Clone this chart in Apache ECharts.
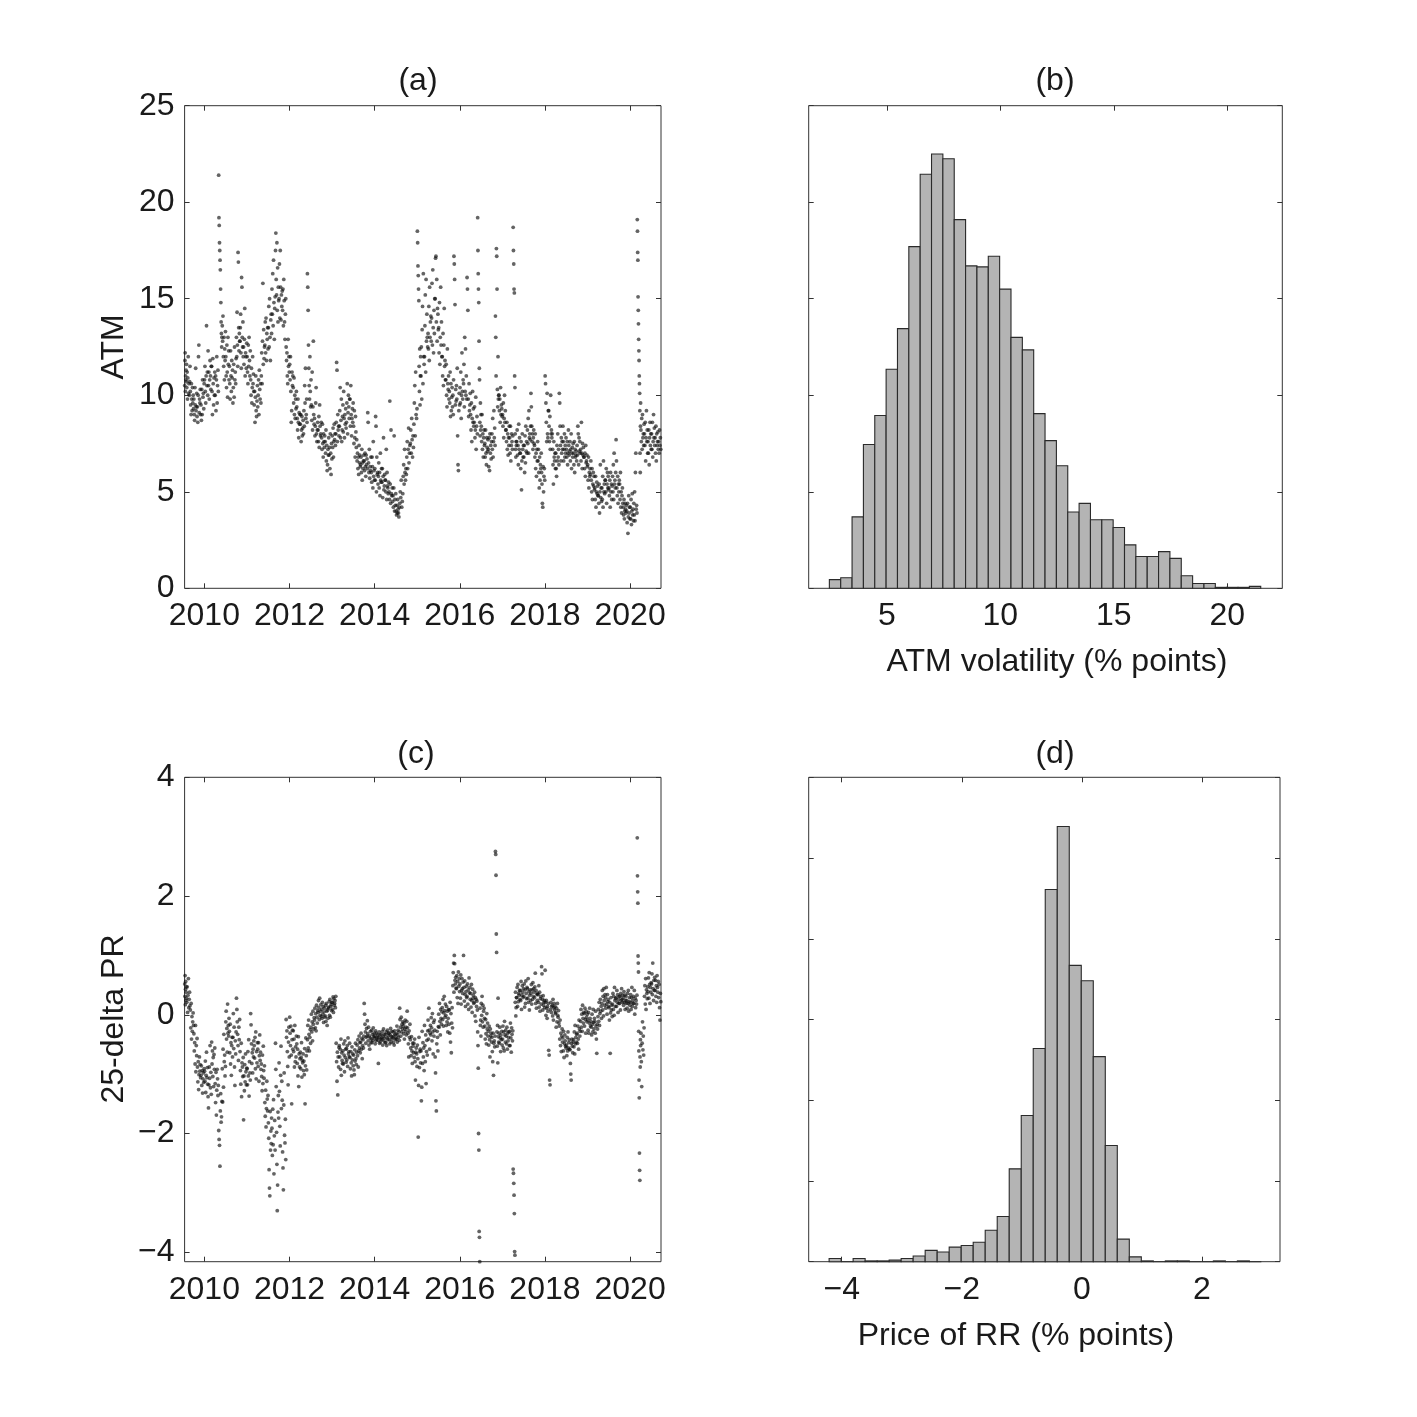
<!DOCTYPE html>
<html><head><meta charset="utf-8">
<script src="https://cdn.jsdelivr.net/npm/echarts@6/dist/echarts.min.js"></script>
<style>html,body{margin:0;padding:0;background:#fff}#c{width:1417px;height:1417px}</style>
</head><body><div id="c"></div>
<script>
// ---------- tick labels ----------
const yearTicks = [2010, 2012, 2014, 2016, 2018, 2020];
const atmTicks = [0, 5, 10, 15, 20, 25];
const rrTicks = [-4, -2, 0, 2, 4];
const atmHistTicks = [5, 10, 15, 20];
const rrHistTicks = [-4, -2, 0, 2];

// ---------- (a) ATM volatility, monthly groups of daily observations ----------
const atm2009 = [ // Jul-Dec
 [10.5,11.8,12.2,10.2,11.0,10.8,11.3,10.7,11.6],
 [10.4,11.2,9.8,10.9,12.0,10.1,10.6,10.0,10.7,11.5],
 [10.2,9.5,9.0,10.6,9.8,9.2,10.4,9.6,10.0,9.3],
 [9.8,9.0,8.7,10.4,9.5,11.4,9.2,9.4,10.1,8.9],
 [9.4,8.6,10.0,12.0,12.6,9.1,9.8,9.6,10.3,9.0],
 [9.5,8.7,10.3,9.0,10.8,9.9,10.1,9.3,10.6]
];
const atm2010 = [
 [10.8,11.5,10.2,9.6,11.0,13.6,10.5,11.2,10.0],
 [12.3,10.5,11.2,9.8,10.8,11.8,11.0,10.3,11.5],
 [11.5,10.2,9.0,11.9,10.6,9.5,10.9,10.0,11.2],
 [10.0,11.0,9.2,10.8,12.0,9.6,10.5,11.3,10.2],
 [21.4,19.2,18.8,17.9,17.5,17.0,16.5,15.5,14.8,13.8,13.2,12.5,13.0],
 [13.6,12.8,14.1,12.0,11.5,13.0,10.8,12.4,11.8,13.3],
 [12.0,11.0,10.4,12.6,11.2,9.9,13.0,11.6,12.3,10.8],
 [11.5,10.6,9.8,12.3,11.0,10.2,11.8,10.9,11.3],
 [9.6,10.4,11.6,9.9,12.5,10.8,11.2,10.6,11.9],
 [13.0,12.0,14.3,12.6,11.5,17.4,16.9,13.5,12.3,13.2,12.8],
 [12.8,13.5,14.2,12.2,11.4,16.1,15.6,13.0,12.5,13.8,12.0],
 [12.5,11.6,12.9,14.5,11.0,12.2,12.0,11.4,12.7]
];
const atm2011 = [
 [12.0,11.2,10.6,12.6,11.5,13.0,11.8,11.0,12.3],
 [10.8,10.0,11.4,9.6,10.4,12.0,10.6,11.1,10.2],
 [9.5,10.2,8.6,9.9,11.0,9.2,8.9,9.7,10.5],
 [9.4,10.0,10.8,9.0,11.3,10.3,9.8,10.6,9.6],
 [11.0,12.2,10.6,12.8,15.8,11.6,13.4,11.9,12.5],
 [12.6,13.8,12.2,14.0,11.8,13.2,12.9,13.5,12.4],
 [13.5,14.6,12.5,15.0,13.0,11.8,13.9,14.2,13.2],
 [15.5,14.2,16.3,13.6,17.0,14.8,12.9,14.5,15.1],
 [17.5,18.4,16.0,15.2,17.9,14.4,16.6,13.8,15.6,14.9],
 [15.0,16.8,14.0,17.5,15.6,13.9,15.2,14.6,15.4],
 [14.4,15.5,13.6,16.0,14.9,13.8,12.9,14.2,15.0],
 [12.5,11.8,12.2,11.0,10.6,12.9,11.5,12.0,11.2]
];
const atm2012 = [
 [11.6,10.8,12.0,10.2,8.6,9.2,11.2,10.5,11.0],
 [10.4,9.6,10.9,9.0,10.0,8.8,9.8,9.3,10.2],
 [9.4,8.8,8.2,9.8,8.6,7.8,9.1,8.5,9.0],
 [8.5,9.0,7.6,8.2,8.9,7.9,8.3,8.7,8.0],
 [9.2,8.4,10.5,9.6,11.4,8.8,9.0,9.8,8.6],
 [16.3,15.6,14.4,12.6,11.4,10.5,9.8,12.0,10.2,9.4],
 [10.8,9.5,8.7,11.2,8.2,9.4,12.8,9.0,8.5],
 [8.8,7.9,8.4,9.6,10.4,8.0,7.6,8.2,8.6],
 [8.2,7.6,8.9,7.3,9.5,8.4,7.9,8.0,8.6],
 [7.8,7.2,8.5,7.5,6.8,8.0,7.6,7.3,7.9],
 [7.6,7.0,8.2,6.6,7.4,6.1,6.4,7.2,6.9],
 [7.8,6.9,7.3,6.2,8.0,7.0,5.9,7.5,6.7]
];
const atm2013 = [
 [7.9,7.3,8.3,6.8,7.6,8.5,7.7,8.0,7.4],
 [8.0,8.6,11.7,11.3,7.6,9.0,8.2,8.4,7.9],
 [8.4,9.2,10.4,7.8,8.7,9.8,7.6,8.2,8.9],
 [9.5,8.1,10.2,8.8,7.8,9.0,8.5,9.3,8.3],
 [8.6,9.6,10.6,8.0,9.1,10.0,9.4,8.8,9.8],
 [9.8,8.4,10.5,9.0,7.9,8.8,9.3,8.6,9.6],
 [8.4,7.5,9.2,7.8,6.8,8.9,8.1,7.3,7.7],
 [6.6,7.0,6.2,6.8,5.9,7.4,6.5,6.9,6.3],
 [6.4,6.8,6.0,7.2,5.6,6.5,6.2,6.6,6.9],
 [6.6,6.1,7.0,6.3,5.8,6.9,6.4,6.7,6.2],
 [9.1,8.6,6.5,6.0,7.2,5.7,6.3,6.1,6.8],
 [6.0,5.5,6.8,6.3,5.2,7.6,5.8,6.1,5.6]
];
const atm2014 = [
 [6.2,5.6,8.9,8.4,5.0,6.8,5.9,6.0,5.4],
 [5.8,6.5,5.2,6.0,4.8,7.0,5.6,5.5,6.2],
 [5.5,6.2,4.7,5.8,7.8,5.1,5.3,5.9,5.6],
 [5.6,5.0,7.2,4.6,6.0,5.3,5.2,4.9,5.5],
 [5.0,4.6,9.7,5.4,4.4,8.2,4.9,4.8,5.2],
 [4.5,4.8,4.2,5.2,7.9,4.0,4.6,4.3,4.9],
 [4.0,3.8,4.3,3.9,4.6,4.1,3.9,3.7,4.2],
 [4.4,5.0,4.7,5.6,4.2,4.5,4.9],
 [5.8,6.4,5.4,7.2,6.0,5.6,6.2,5.9],
 [6.8,7.6,6.2,7.2,8.3,6.5,7.0,7.4],
 [7.5,8.2,7.0,8.8,7.7,6.8,7.9,7.3],
 [8.5,9.6,10.5,7.9,11.2,9.0,8.8,9.3]
];
const atm2015 = [
 [18.5,17.9,16.7,16.2,15.5,14.9,11.5,10.2,12.4,9.5,11.0,12.0],
 [11.0,12.5,9.8,13.4,14.6,10.6,16.3,12.0,11.6],
 [12.0,13.6,15.2,11.2,16.0,12.8,14.2,13.0,12.5],
 [13.2,12.4,14.6,11.8,15.6,13.0,13.8,14.1,12.8],
 [14.0,15.8,12.6,16.5,13.5,12.2,14.4,13.2,15.0],
 [15.0,17.1,17.2,13.8,16.0,12.8,14.5,14.2,13.4],
 [13.5,12.2,14.8,11.6,13.0,15.6,12.6,13.8,12.0],
 [12.0,11.0,13.2,10.5,12.6,14.5,11.5,11.8,10.8],
 [10.8,11.6,10.0,9.4,12.4,10.6,10.3,11.0,9.8],
 [10.2,9.6,11.2,8.9,10.6,9.2,9.9,10.4,9.4],
 [10.0,9.0,10.8,17.2,16.8,16.0,14.7,9.5,10.3,9.7],
 [10.5,9.8,11.4,7.9,6.4,6.1,9.2,10.1,9.5]
];
const atm2016 = [
 [10.4,9.6,11.2,8.8,10.0,12.2,10.2,9.8,10.8],
 [10.6,11.6,9.4,13.0,10.2,12.4,10.0,11.0,9.8],
 [16.1,15.5,14.4,9.8,8.9,10.6,9.2,9.5,10.1],
 [9.0,8.2,9.6,7.6,8.8,10.2,8.6,9.3,8.4],
 [8.6,9.4,7.8,8.2,9.9,7.2,8.4,8.9,8.0],
 [19.2,17.5,16.3,15.5,14.8,12.8,11.4,10.8,8.6,7.9,9.6,8.2,9.0],
 [8.4,7.6,9.0,7.2,8.0,6.8,7.8,8.2,7.4],
 [7.5,6.8,8.2,7.0,6.4,7.8,7.3,7.1,7.7],
 [7.2,6.3,7.8,6.1,8.0,7.0,7.4,6.7,7.6],
 [8.0,7.2,8.8,6.8,7.6,9.2,7.8,8.3,7.4],
 [14.1,13.0,11.0,17.6,17.2,15.5,10.3,9.4,12.0,9.8,10.0],
 [10.0,9.2,9.8,8.6,10.4,9.0,9.5,9.3,8.9]
];
const atm2017 = [
 [9.0,8.4,9.6,7.8,8.8,10.0,8.6,9.2,8.2],
 [8.2,7.6,8.6,7.2,8.0,6.9,7.8,7.4,8.4],
 [7.8,7.0,8.4,6.6,7.4,8.0,7.6,7.2,7.9],
 [18.7,17.5,16.8,15.5,15.3,11.0,10.4,8.0,7.2,6.8,7.6,7.4],
 [7.6,8.2,6.9,7.4,6.4,8.5,7.2,7.8,7.0],
 [7.0,6.2,7.6,5.1,6.6,8.0,7.2,6.8,7.4],
 [6.8,7.4,6.0,7.9,6.5,8.4,7.1,7.6,7.0],
 [8.2,7.5,8.8,7.0,9.2,7.8,8.0,7.7,8.4],
 [10.1,9.4,8.4,7.6,8.0,7.2,7.8,8.2,7.5],
 [7.4,6.8,8.0,6.2,7.0,5.8,7.2,6.6,7.6],
 [6.6,7.2,6.0,5.2,6.8,5.6,6.4,6.2,7.0],
 [6.0,5.4,4.4,4.2,6.3,5.0,5.8,6.2,5.6]
];
const atm2018 = [
 [11.0,10.6,9.6,8.6,7.6,10.1,8.0,7.8,9.2],
 [9.2,8.4,7.6,8.9,7.2,10.0,8.0,8.2,7.8],
 [8.0,7.2,6.4,5.4,7.6,6.8,6.6,7.0,6.2],
 [7.0,6.2,5.8,7.4,6.6,8.0,6.8,7.2,6.4],
 [10.1,9.6,8.4,7.4,6.6,7.8,7.0,7.6,7.2],
 [8.4,7.6,6.6,7.2,8.0,6.8,7.4,7.0,7.8],
 [7.2,6.8,7.6,6.4,7.0,8.2,7.4,6.9,7.1],
 [7.6,6.6,7.2,8.0,6.2,7.0,7.3,6.8,7.5],
 [7.0,6.4,7.6,6.0,7.2,6.8,6.9,7.1,6.6],
 [7.4,6.9,8.4,8.0,6.4,7.8,7.1,7.6,7.0],
 [7.2,6.6,8.6,7.0,6.2,7.5,6.9,7.3,6.8],
 [6.8,6.2,7.0,5.8,7.4,6.5,6.6,6.9,6.3]
];
const atm2019 = [
 [6.4,5.6,6.8,5.2,6.0,5.8,6.2,5.9,6.6],
 [5.6,5.0,6.2,4.6,5.4,6.0,5.3,5.8,5.1],
 [5.2,4.6,5.8,4.2,5.0,5.5,4.9,5.3,4.8],
 [4.8,4.4,5.4,3.9,5.0,6.4,4.7,5.2,4.5],
 [5.2,4.6,5.8,4.2,6.6,5.0,5.4,4.9,5.6],
 [5.6,5.0,6.2,4.4,5.4,6.0,5.2,5.8,5.1],
 [5.2,4.8,5.6,4.2,6.0,5.0,5.4,4.6,5.3],
 [5.8,5.0,6.4,4.6,7.0,5.4,5.6,5.2,6.0],
 [7.7,6.6,5.2,4.8,5.8,4.4,5.4,5.0,5.6],
 [5.4,4.6,6.0,4.2,5.0,3.9,4.8,5.2,4.4],
 [4.2,3.8,4.6,3.6,4.0,4.4,4.1,3.9,4.3],
 [4.0,3.4,4.4,2.85,3.7,4.8,3.9,4.2,3.6]
];
const atm2020 = [ // Jan-Sep
 [4.2,3.6,4.6,3.3,4.0,4.9,3.8,4.1,3.5],
 [4.4,3.8,5.0,3.5,6.0,7.0,4.1,4.3,3.9],
 [19.1,18.5,17.4,17.0,15.1,14.4,13.7,12.9,12.3,11.8,11.0,10.6,10.1,9.2,7.0,6.0,8.4,9.6],
 [8.2,7.6,8.8,7.2,9.0,7.8,8.0,7.4,8.5],
 [8.0,7.4,8.6,6.6,7.8,9.2,7.6,8.2,7.0],
 [7.6,7.0,8.2,6.4,7.8,8.6,7.4,8.0,7.2],
 [8.0,7.2,8.6,6.8,7.6,9.0,7.8,8.3,7.4],
 [7.8,7.0,8.4,6.6,8.0,7.4,7.6,8.1,7.2],
 [7.6,7.0,8.2,7.4,7.8,7.2]
];

// ---------- (c) 25-delta RR, monthly groups ----------
const rr2009 = [ // Jul-Dec
 [0.52,0.31,0.66,0.17,0.43,0.56,0.24,0.38,0.47,0.28],
 [0.21,0.47,0.04,0.33,0.61,0.12,0.26,0.38,0.15],
 [0.08,-0.22,0.19,-0.41,-0.03,-0.28,-0.12,0.03,-0.18],
 [-0.32,-0.61,-0.47,-0.83,-0.18,-0.96,-0.52,-0.69,-0.4],
 [-0.88,-1.13,-0.79,-1.26,-1.01,-0.71,-0.95,-0.84,-1.06],
 [-1.02,-0.86,-1.19,-0.94,-1.32,-1.08,-0.98,-1.14,-0.91]
];
const rr2010 = [
 [-0.95,-1.12,-0.78,-1.31,-1.02,-0.63,-1.06,-0.89,-1.17],
 [-1.38,-1.57,-1.18,-0.88,-1.07,-0.52,-1.23,-0.97,-1.34],
 [-0.46,-0.83,-0.61,-1.04,-0.72,-1.21,-0.67,-0.92,-0.56],
 [-1.16,-1.48,-0.97,-1.69,-1.27,-0.92,-1.08,-1.36,-1.19],
 [-1.95,-2.1,-2.2,-2.55,-1.62,-1.33,-1.81,-1.72,-1.46],
 [-0.91,-1.47,-0.58,-1.22,-0.33,-0.79,-0.68,-1.03,-0.87],
 [-0.12,0.06,-0.41,-0.23,-0.63,0.18,-0.31,-0.18,-0.36,-0.06],
 [-0.28,-0.64,-0.16,-0.83,-0.47,-1.02,-0.52,-0.38,-0.71],
 [-0.38,0.02,-0.57,-0.21,-0.88,-1.19,-0.44,-0.66,-0.29],
 [0.28,0.09,-0.12,-0.33,-0.52,-0.77,-0.21,-0.42,-0.08],
 [-0.62,-0.94,-1.17,-0.48,-1.38,-0.81,-0.88,-1.04,-0.72],
 [-1.77,-1.03,-1.28,-0.84,-1.13,-0.66,-0.96,-1.18,-0.9]
];
const rr2011 = [
 [-0.91,-1.18,-0.62,-1.03,-0.42,-1.37,-0.79,-0.98,-1.1],
 [0.02,-0.17,-0.49,-0.82,-0.64,-0.98,-0.58,-0.71,-0.44],
 [-0.52,-0.73,-0.38,-0.91,-0.29,-1.08,-0.62,-0.81,-0.47],
 [-0.58,-0.87,-0.47,-1.12,-0.69,-0.34,-0.77,-0.63,-0.92],
 [-0.83,-1.04,-1.28,-0.68,-1.16,-0.53,-0.94,-1.07,-0.86],
 [-1.48,-1.71,-1.27,-1.89,-1.58,-1.12,-1.42,-1.62,-1.36],
 [-1.82,-2.08,-2.61,-2.92,-3.05,-1.63,-2.28,-1.96,-2.17,-1.74],
 [-1.91,-2.37,-1.59,-2.19,-1.43,-2.68,-2.04,-1.78,-2.28],
 [-0.48,-0.92,-1.21,-1.98,-2.52,-3.3,-2.87,-1.64,-1.36,-1.74],
 [-0.81,-1.29,-1.88,-2.21,-1.02,-0.53,-1.58,-1.12,-1.44],
 [-2.31,-2.58,-2.95,-1.52,-0.98,-2.03,-2.16,-1.76,-2.44],
 [-0.08,-0.38,-0.27,-0.62,-0.87,-1.18,-0.46,-0.21,-0.71]
];
const rr2012 = [
 [-0.04,-0.31,-0.52,-0.19,-0.68,-1.5,-0.42,-0.26,-0.58],
 [-0.27,-0.62,-0.41,-0.88,-0.18,-0.79,-0.54,-0.71,-0.36],
 [-0.49,-0.82,-0.58,-1.03,-0.37,-1.21,-0.66,-0.88,-0.74],
 [-0.63,-0.91,-0.72,-0.47,-1.05,-0.77,-0.81,-0.66,-0.94],
 [-0.78,-1.01,-0.57,-1.5,-0.86,-0.39,-0.69,-0.93,-0.61],
 [-0.42,-0.18,-0.56,-0.09,-0.33,-0.61,-0.38,-0.25,-0.48],
 [-0.21,0.01,-0.29,-0.12,-0.44,0.06,-0.16,-0.24,-0.05],
 [-0.09,0.11,-0.22,0.02,-0.27,0.16,-0.04,-0.14,0.07],
 [0.04,0.24,0.12,-0.08,0.28,-0.01,0.06,0.17,-0.03],
 [0.09,-0.06,0.21,0.01,0.14,-0.13,0.05,0.11,-0.04],
 [-0.02,0.16,-0.11,0.19,0.06,-0.18,0.08,-0.06,0.13],
 [0.11,0.22,-0.01,0.26,-0.04,0.14,0.17,0.07,0.21]
];
const rr2013 = [
 [0.21,0.09,0.3,0.04,0.27,0.16,0.19,0.24,0.12],
 [0.31,-0.48,-0.79,-1.12,-0.63,-1.35,-0.71,-0.88,-0.55],
 [-0.52,-0.71,-0.58,-0.92,-0.41,-1.02,-0.64,-0.77,-0.82],
 [-0.61,-0.83,-0.49,-0.68,-0.96,-0.44,-0.72,-0.58,-0.8],
 [-0.57,-0.76,-0.52,-0.87,-0.39,-0.66,-0.62,-0.71,-0.48],
 [-0.72,-0.91,-0.62,-0.81,-1.03,-0.54,-0.76,-0.66,-0.86],
 [-0.68,-0.93,-1.01,-0.59,-0.78,-0.48,-0.74,-0.84,-0.63],
 [-0.51,-0.69,-0.42,-0.88,-0.61,-0.36,-0.56,-0.47,-0.64],
 [-0.46,-0.31,-0.58,-0.4,-0.74,-0.52,-0.42,-0.56,-0.36],
 [0.19,0.01,-0.16,-0.29,-0.48,-0.38,-0.23,-0.36,-0.1],
 [-0.32,-0.44,-0.21,-0.51,-0.36,-0.58,-0.39,-0.28,-0.47],
 [-0.41,-0.26,-0.47,-0.33,-0.43,-0.22,-0.37,-0.31,-0.39]
];
const rr2014 = [
 [-0.36,-0.49,-0.27,-0.44,-0.31,-0.41,-0.38,-0.34,-0.43],
 [-0.82,-0.38,-0.29,-0.48,-0.34,-0.46,-0.41,-0.33,-0.39],
 [-0.42,-0.28,-0.51,-0.37,-0.24,-0.44,-0.33,-0.39,-0.47],
 [-0.33,-0.47,-0.29,-0.52,-0.39,-0.26,-0.42,-0.36,-0.31],
 [-0.31,-0.42,-0.49,-0.34,-0.23,-0.46,-0.37,-0.28,-0.41],
 [-0.38,-0.29,-0.47,-0.36,-0.51,-0.27,-0.33,-0.42,-0.39],
 [-0.32,-0.41,-0.19,-0.46,-0.34,-0.26,-0.38,-0.29,-0.43],
 [0.11,-0.08,-0.21,-0.36,-0.04,-0.29,-0.16,-0.24,-0.12],
 [-0.19,-0.32,-0.14,-0.41,-0.24,-0.09,-0.28,-0.21,-0.34],
 [-0.11,0.06,-0.22,-0.31,-0.49,-0.71,-0.27,-0.38,-0.16],
 [-0.42,-0.56,-0.69,-0.37,-0.61,-0.82,-0.48,-0.53,-0.64],
 [-0.48,-0.72,-0.41,-0.79,-1.1,-0.63,-0.56,-0.66,-0.87]
];
const rr2015 = [
 [-0.51,-0.74,-2.06,-1.19,-0.38,-0.89,-0.62,-0.58,-0.81],
 [-0.61,-1.45,-1.22,-0.28,-0.82,-0.47,-0.71,-0.56,-0.94],
 [-0.18,-0.52,-0.79,-0.34,-1.16,-0.62,-0.43,-0.68,-0.27],
 [-0.09,-0.41,0.11,-0.26,-0.58,-0.31,-0.18,-0.34,-0.05],
 [-0.22,-0.44,0.02,-0.29,-0.66,-0.13,-0.36,-0.09,-0.26],
 [-0.71,-0.98,-1.45,-1.62,-0.49,-0.28,-0.38,-0.61,-0.2],
 [0.01,-0.21,0.19,-0.11,-0.34,0.09,-0.06,-0.16,0.05],
 [0.12,-0.08,0.26,-0.19,0.03,0.31,0.07,-0.04,0.18],
 [-0.01,-0.18,0.14,-0.12,0.06,-0.29,-0.06,0.09,-0.16],
 [0.08,-0.31,0.21,-0.46,0.02,-0.64,-0.14,0.12,-0.22],
 [0.49,0.71,0.87,0.38,1.0,0.86,0.58,0.52,0.63,0.45],
 [0.44,0.66,0.29,0.56,0.19,0.72,0.48,0.61,0.39]
];
const rr2016 = [
 [0.52,0.28,0.67,0.18,0.41,0.61,0.44,0.36,0.55],
 [1.0,0.46,0.23,0.57,0.34,0.14,0.39,0.48,0.29],
 [0.31,0.52,0.18,0.42,0.09,0.62,0.37,0.46,0.26],
 [0.36,0.13,0.51,0.24,0.04,0.43,0.28,0.33,0.19],
 [0.21,0.38,-0.02,0.29,-0.11,0.26,0.14,0.23,0.08],
 [-0.29,-0.52,-0.9,-2.0,-2.28,-3.65,-3.75,-4.16,0.11,-0.18,-0.09,-0.36],
 [0.19,-0.01,0.31,-0.12,0.16,-0.21,0.06,0.11,-0.06],
 [-0.19,-0.41,-0.08,-0.32,-0.49,0.02,-0.24,-0.14,-0.36],
 [-0.28,-0.51,-0.19,-0.42,-0.71,-0.24,-0.36,-0.31,-0.46],
 [-0.38,-0.62,-0.79,-0.31,-1.02,-0.48,-0.44,-0.54,-0.36],
 [2.75,2.7,2.35,1.36,1.05,-0.29,-0.53,-0.18,-0.81,0.28,-0.37,-0.46],
 [-0.31,-0.48,-0.21,-0.39,-0.62,-0.34,-0.42,-0.28,-0.51]
];
const rr2017 = [
 [-0.41,-0.19,-0.56,-0.29,-0.61,-0.11,-0.34,-0.46,-0.26],
 [-0.36,-0.49,-0.21,-0.58,-0.31,-0.44,-0.38,-0.29,-0.52],
 [-0.28,-0.52,-0.14,-0.39,-0.63,-0.22,-0.33,-0.44,-0.27],
 [-2.6,-2.67,-2.84,-3.04,-3.35,-3.99,-4.05,0.21,0.38,-0.02,0.12,0.29],
 [0.29,0.46,0.14,0.51,0.22,0.36,0.33,0.41,0.26],
 [0.41,0.24,0.56,0.09,0.33,0.49,0.38,0.29,0.44],
 [0.31,0.52,0.13,0.42,0.19,0.57,0.36,0.27,0.46],
 [0.44,0.28,0.61,0.21,0.39,0.08,0.33,0.42,0.24],
 [0.36,0.51,0.18,0.42,0.26,0.54,0.31,0.44,0.38],
 [0.29,0.47,0.7,0.19,0.41,0.11,0.34,0.24,0.36],
 [0.34,0.21,0.49,0.13,0.38,0.06,0.27,0.31,0.18],
 [0.81,0.69,0.26,0.08,0.32,0.16,0.21,0.24,0.12]
];
const rr2018 = [
 [0.75,0.21,-0.01,0.24,0.11,-0.06,0.14,0.06,0.19],
 [-0.6,-0.68,-1.1,-1.18,0.09,0.21,0.04,0.14],
 [0.16,-0.02,0.26,-0.09,0.12,0.19,0.08,0.14,0.02],
 [0.04,-0.21,0.11,-0.12,0.19,-0.01,-0.04,0.07,-0.14],
 [-0.19,-0.41,-0.09,-0.52,-0.31,-0.62,-0.36,-0.24,-0.46],
 [-0.39,-0.61,-0.28,-0.72,-0.49,-0.34,-0.44,-0.53,-0.56],
 [-0.51,-0.69,-0.38,-0.61,-0.29,-0.56,-0.47,-0.42,-0.58],
 [-0.59,-0.82,-1.0,-1.1,-0.48,-0.41,-0.53,-0.64,-0.46],
 [-0.42,-0.54,-0.29,-0.66,-0.18,-0.49,-0.38,-0.46,-0.33],
 [-0.31,-0.48,-0.19,-0.41,-0.58,-0.09,-0.24,-0.36,-0.28],
 [-0.11,0.09,-0.21,0.01,-0.28,0.16,-0.06,-0.14,0.04],
 [0.02,-0.19,0.11,-0.08,-0.31,0.06,-0.04,-0.12,0.01]
];
const rr2019 = [
 [-0.09,-0.26,0.04,-0.31,-0.14,0.11,-0.06,-0.19,-0.11],
 [-0.21,-0.34,0.01,-0.16,-0.29,0.09,-0.13,-0.24,-0.06],
 [-0.11,-0.31,0.06,-0.19,-0.41,-0.65,-0.16,-0.24,-0.03],
 [0.09,-0.11,0.21,-0.18,0.02,0.26,0.06,0.14,-0.06],
 [0.19,0.41,0.08,0.31,-0.02,0.44,0.24,0.16,0.34],
 [0.29,0.11,0.46,0.18,0.01,0.34,0.22,0.26,0.14],
 [0.12,-0.09,0.21,-0.65,0.03,0.29,0.08,0.16,-0.03],
 [0.18,0.36,0.09,0.31,-0.01,0.46,0.24,0.14,0.27],
 [0.29,0.14,0.41,0.21,0.34,0.04,0.26,0.19,0.31],
 [0.19,0.31,0.08,0.36,0.24,0.44,0.26,0.21,0.33],
 [0.28,0.16,0.39,0.21,0.33,0.09,0.24,0.31,0.19],
 [0.24,0.11,0.36,0.19,0.41,0.06,0.22,0.29,0.16]
];
const rr2020 = [ // Jan-Sep
 [0.21,0.34,0.09,0.29,0.46,0.14,0.24,0.19,0.31],
 [0.19,0.41,0.01,0.28,0.12,0.24,0.18,0.33],
 [2.98,2.34,2.07,1.88,0.99,0.87,0.72,-0.28,-0.61,-1.1,-1.4,-2.33,-2.62,-2.79,-0.71,-0.88,-0.42,-0.52],
 [-0.31,-0.79,-1.21,-0.48,-0.12,-0.59,-0.36,-0.68,-0.22],
 [0.31,0.49,0.18,0.61,0.09,0.42,0.36,0.27,0.47],
 [0.39,0.62,0.28,0.71,0.51,0.19,0.46,0.38,0.54],
 [0.52,0.69,0.34,0.87,0.44,0.24,0.58,0.41,0.63],
 [0.41,0.58,0.31,0.49,0.21,0.66,0.46,0.38,0.56],
 [0.29,0.51,0.12,-0.09,0.36,0.22]
];

// ---------- (b) histogram of ATM volatility (bin width 0.5) ----------
const atmBinStart = 2.47;
const atmBinWidth = 0.5;
const atmCounts = [9,11,74,149,179,227,269,354,429,450,445,382,334,333,344,310,260,247,181,153,127,79,88,71,71,63,45,33,33,38,31,13,5,5,1,1,1,2];

// ---------- (d) histogram of RR price (bin width 0.2) ----------
const rrBinStart = -4.21;
const rrBinWidth = 0.2;
const rrCounts = [4,0,4,1,1,2,4,7,14,12,18,20,24,39,56,115,181,264,461,539,367,348,254,144,28,6,1,0,1,1,0,0,1,0,1,0];

// ---------- build ----------
const X_MIN = 2009.536, X_MAX = 2020.726;
function monthlyPoints(year, firstMonth, months) {
  const pts = [];
  months.forEach((vals, i) => {
    const m = firstMonth + i;
    const a = Math.max(year + (m - 1) / 12, X_MIN);
    const b = Math.min(year + m / 12, X_MAX);
    vals.forEach((v, j) => pts.push([a + (j + 0.5) * (b - a) / vals.length, v]));
  });
  return pts;
}
function buildSeriesData(y2009, rest, y2020) {
  let pts = monthlyPoints(2009, 7, y2009);
  rest.forEach((arr, k) => { pts = pts.concat(monthlyPoints(2010 + k, 1, arr)); });
  return pts.concat(monthlyPoints(2020, 1, y2020));
}
const atmPoints = buildSeriesData(atm2009, [atm2010,atm2011,atm2012,atm2013,atm2014,atm2015,atm2016,atm2017,atm2018,atm2019], atm2020);
const rrPoints = buildSeriesData(rr2009, [rr2010,rr2011,rr2012,rr2013,rr2014,rr2015,rr2016,rr2017,rr2018,rr2019], rr2020);

const FONT = 'Liberation Sans, Arial, Helvetica, sans-serif';
const TXT = '#1a1a1a';
const LINE = '#333333';
const fmt = v => (v < 0 ? '\u2212' + Math.abs(v) : String(v));

function xAxes(grid, min, max, ticks) {
  const tick = {show: true, inside: true, length: 5, customValues: ticks, lineStyle: {color: LINE, width: 1}};
  return [
    {type: 'value', gridIndex: grid, position: 'bottom', min, max,
     axisLine: {show: false, onZero: false}, splitLine: {show: false}, axisTick: tick,
     axisLabel: {show: true, customValues: ticks, formatter: fmt, fontSize: 32, fontFamily: FONT, color: TXT, margin: 12}},
    {type: 'value', gridIndex: grid, position: 'top', min, max,
     axisLine: {show: false, onZero: false}, splitLine: {show: false}, axisTick: tick, axisLabel: {show: false}}
  ];
}
function yAxes(grid, min, max, ticks, labels) {
  const tick = {show: true, inside: true, length: 5, customValues: ticks, lineStyle: {color: LINE, width: 1}};
  return [
    {type: 'value', gridIndex: grid, position: 'left', min, max,
     axisLine: {show: false, onZero: false}, splitLine: {show: false}, axisTick: tick,
     axisLabel: {show: labels, customValues: ticks, formatter: fmt, fontSize: 32, fontFamily: FONT, color: TXT, margin: 10}},
    {type: 'value', gridIndex: grid, position: 'right', min, max,
     axisLine: {show: false, onZero: false}, splitLine: {show: false}, axisTick: tick, axisLabel: {show: false}}
  ];
}
function histSeries(axisIdx, start, width, counts) {
  return {
    type: 'custom', xAxisIndex: axisIdx, yAxisIndex: axisIdx, silent: true,
    data: counts.map((c, i) => [start + i * width, start + (i + 1) * width, c]),
    encode: {x: [0, 1], y: 2},
    renderItem: (params, api) => {
      const p0 = api.coord([api.value(0), 0]);
      const p1 = api.coord([api.value(1), api.value(2)]);
      return {type: 'rect', shape: {x: p0[0], y: p1[1], width: p1[0] - p0[0], height: p0[1] - p1[1]},
              style: {fill: '#b4b4b4', stroke: '#2a2a2a', lineWidth: 1.1}};
    }
  };
}
function scatterSeries(axisIdx, pts) {
  return {type: 'scatter', xAxisIndex: axisIdx, yAxisIndex: axisIdx, data: pts, symbol: 'circle', symbolSize: 3.8,
          silent: true, itemStyle: {color: 'rgba(12,12,12,0.8)'}};
}

const gridBase = {show: true, borderColor: LINE, borderWidth: 1, backgroundColor: 'transparent', containLabel: false};
const option = {
  animation: false,
  textStyle: {fontFamily: FONT},
  grid: [
    Object.assign({left: 184.6, top: 105.7, width: 476.4, height: 482.6}, gridBase),
    Object.assign({left: 808.7, top: 105.7, width: 473.6, height: 482.6}, gridBase),
    Object.assign({left: 184.6, top: 777.3, width: 476.4, height: 484.4}, gridBase),
    Object.assign({left: 808.7, top: 777.3, width: 471.3, height: 484.4}, gridBase)
  ],
  // axis order per grid: bottom/top x, left/right y
  xAxis: [].concat(
    xAxes(0, X_MIN, X_MAX, yearTicks),
    xAxes(1, 1.56, 22.42, atmHistTicks),
    xAxes(2, X_MIN, X_MAX, yearTicks),
    xAxes(3, -4.55, 3.3, rrHistTicks)
  ),
  yAxis: [].concat(
    yAxes(0, 0, 25, atmTicks, true),
    yAxes(1, 0, 500, [0,100,200,300,400,500], false),
    yAxes(2, -4.16, 4, rrTicks, true),
    yAxes(3, 0, 600, [0,100,200,300,400,500,600], false)
  ),
  series: [
    scatterSeries(0, atmPoints),
    histSeries(2, atmBinStart, atmBinWidth, atmCounts),
    scatterSeries(4, rrPoints),
    histSeries(6, rrBinStart, rrBinWidth, rrCounts)
  ],
  graphic: [
    {type: 'text', x: 418, y: 81, style: {text: '(a)', font: '32px ' + FONT, fill: TXT, align: 'center', verticalAlign: 'middle'}},
    {type: 'text', x: 1055, y: 81, style: {text: '(b)', font: '32px ' + FONT, fill: TXT, align: 'center', verticalAlign: 'middle'}},
    {type: 'text', x: 416, y: 754, style: {text: '(c)', font: '32px ' + FONT, fill: TXT, align: 'center', verticalAlign: 'middle'}},
    {type: 'text', x: 1055, y: 754, style: {text: '(d)', font: '32px ' + FONT, fill: TXT, align: 'center', verticalAlign: 'middle'}},
    {type: 'text', x: 114, y: 347, rotation: Math.PI / 2, style: {text: 'ATM', font: '32px ' + FONT, fill: TXT, align: 'center', verticalAlign: 'middle'}},
    {type: 'text', x: 114, y: 1019, rotation: Math.PI / 2, style: {text: '25-delta PR', font: '32px ' + FONT, fill: TXT, align: 'center', verticalAlign: 'middle'}},
    {type: 'text', x: 1057, y: 662, style: {text: 'ATM volatility (% points)', font: '32px ' + FONT, fill: TXT, align: 'center', verticalAlign: 'middle'}},
    {type: 'text', x: 1016, y: 1336, style: {text: 'Price of RR (% points)', font: '32px ' + FONT, fill: TXT, align: 'center', verticalAlign: 'middle'}}
  ]
};

const chart = echarts.init(document.getElementById('c'), null, {renderer: 'canvas', width: 1417, height: 1417});
chart.setOption(option);
</script>
</body></html>
